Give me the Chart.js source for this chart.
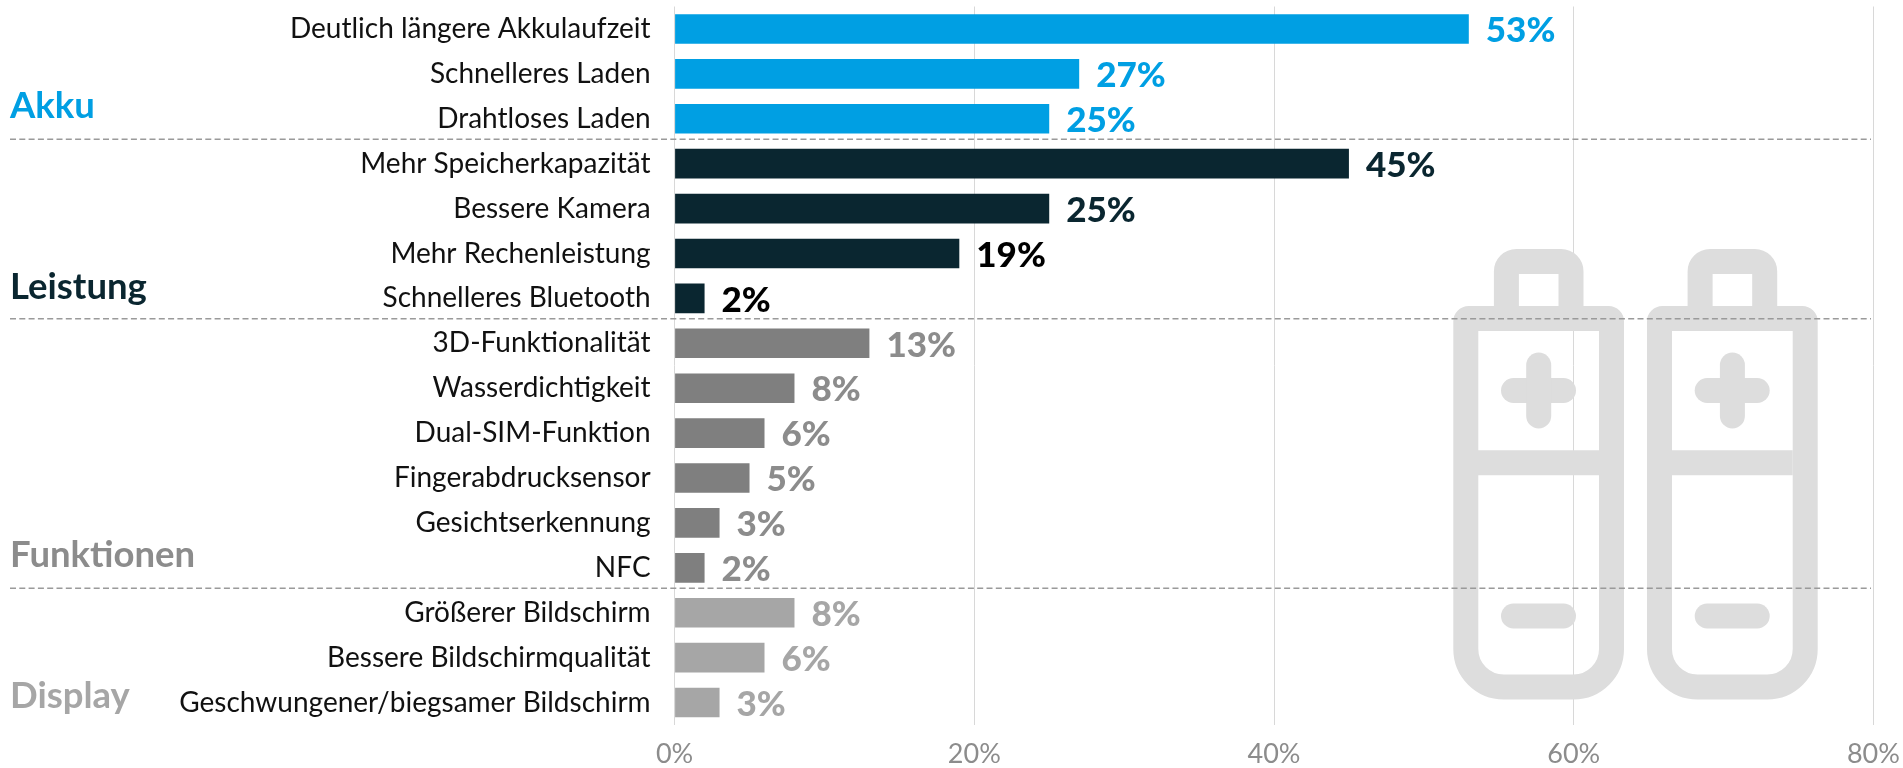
<!DOCTYPE html>
<html>
<head>
<meta charset="utf-8">
<title>Smartphone Wünsche</title>
<script src="https://cdn.jsdelivr.net/npm/chart.js@4"></script>
<style>
    html, body { margin: 0; padding: 0; background: #fff; }
    canvas { display: block; }
</style>
</head>
<body>
<canvas id="chart" width="1903" height="768"></canvas>
<script>
const categories = [
    "Deutlich längere Akkulaufzeit", "Schnelleres Laden", "Drahtloses Laden",
    "Mehr Speicherkapazität", "Bessere Kamera", "Mehr Rechenleistung", "Schnelleres Bluetooth",
    "3D-Funktionalität", "Wasserdichtigkeit", "Dual-SIM-Funktion", "Fingerabdrucksensor", "Gesichtserkennung", "NFC",
    "Größerer Bildschirm", "Bessere Bildschirmqualität", "Geschwungener/biegsamer Bildschirm"
];
const values = [53, 27, 25, 45, 25, 19, 2, 13, 8, 6, 5, 3, 2, 8, 6, 3];
const barColors = [
    "#009fe3", "#009fe3", "#009fe3",
    "#0a2630", "#0a2630", "#0a2630", "#0a2630",
    "#7f7f7f", "#7f7f7f", "#7f7f7f", "#7f7f7f", "#7f7f7f", "#7f7f7f",
    "#a6a6a6", "#a6a6a6", "#a6a6a6"
];
const labelColors = [
    "#009fe3", "#009fe3", "#009fe3",
    "#0a2630", "#0a2630", "#000000", "#000000",
    "#8c8c8c", "#8c8c8c", "#8c8c8c", "#8c8c8c", "#8c8c8c", "#8c8c8c",
    "#a6a6a6", "#a6a6a6", "#a6a6a6"
];
const groupNames = ["Akku", "Leistung", "Funktionen", "Display"];
const groupColors = ["#009fe3", "#0a2630", "#8c8c8c", "#a6a6a6"];
const groupTitleY = [106, 287, 555, 696];
const lastRowOfGroup = [2, 6, 12];
const tickValues = [0, 20, 40, 60, 80];

const FONT = "Lato, sans-serif";

// the two background batteries, just decoration
const drawBattery = (ctx, dx) => {
    const line = (x1, y1, x2, y2) => {
        ctx.beginPath();
        ctx.moveTo(x1 + dx, y1);
        ctx.lineTo(x2 + dx, y2);
        ctx.stroke();
    };
    ctx.strokeStyle = "#dddddd";
    ctx.lineWidth = 25;
    ctx.lineCap = "butt";

    ctx.beginPath();
    ctx.roundRect(1465.8 + dx, 318.5, 145.7, 368.5, [3, 3, 38, 38]);
    ctx.stroke();

    ctx.beginPath();
    ctx.moveTo(1506.4 + dx, 306);
    ctx.lineTo(1506.4 + dx, 272);
    ctx.arcTo(1506.4 + dx, 261.5, 1520 + dx, 261.5, 10);
    ctx.lineTo(1560 + dx, 261.5);
    ctx.arcTo(1571 + dx, 261.5, 1571 + dx, 272, 10);
    ctx.lineTo(1571 + dx, 306);
    ctx.stroke();

    line(1478, 462.7, 1599, 462.7);

    ctx.lineCap = "round";
    line(1513.5, 390.5, 1563.5, 390.5);
    line(1538.7, 365, 1538.7, 416);
    line(1513.5, 616, 1563.5, 616);
};

const decorations = {
    id: "decorations",
    beforeDatasetsDraw(chart) {
        const { ctx } = chart;
        ctx.save();
        drawBattery(ctx, 0);
        drawBattery(ctx, 193.7);
        ctx.restore();
    },
    afterDatasetsDraw(chart) {
        const { ctx, scales } = chart;
        const meta = chart.getDatasetMeta(0);
        ctx.save();

        // group separators
        const pitch = scales.y.getPixelForValue(1) - scales.y.getPixelForValue(0);
        ctx.strokeStyle = "#9a9a9a";
        ctx.lineWidth = 1.5;
        ctx.setLineDash([6, 3.3]);
        lastRowOfGroup.forEach((row) => {
            const y = scales.y.getPixelForValue(row) + pitch / 2 - 2;
            ctx.beginPath();
            ctx.moveTo(10, y);
            ctx.lineTo(1871, y);
            ctx.stroke();
        });
        ctx.setLineDash([]);

        // value labels
        ctx.font = "900 35px " + FONT;
        ctx.textAlign = "left";
        ctx.textBaseline = "middle";
        meta.data.forEach((bar, i) => {
            ctx.fillStyle = labelColors[i];
            ctx.fillText(values[i] + "%", bar.x + 17, bar.y + 2);
        });

        // group titles
        ctx.font = "700 36.5px " + FONT;
        groupNames.forEach((name, i) => {
            ctx.fillStyle = groupColors[i];
            ctx.fillText(name, 10, groupTitleY[i]);
        });
        ctx.restore();
    }
};

new Chart(document.getElementById("chart"), {
    type: "bar",
    data: {
        labels: categories,
        datasets: [{
            data: values,
            backgroundColor: barColors,
            categoryPercentage: 1,
            barPercentage: 0.66
        }]
    },
    options: {
        indexAxis: "y",
        responsive: false,
        animation: false,
        layout: { padding: { top: 6.5, right: 29.6, left: 0, bottom: 0 } },
        plugins: { legend: { display: false }, tooltip: { enabled: false } },
        scales: {
            x: {
                min: 0,
                max: 80,
                afterBuildTicks: (scale) => { scale.ticks = tickValues.map((value) => ({ value })); },
                afterFit: (scale) => {
                    scale.height = 43;
                    scale.paddingLeft = 0;
                    scale.paddingRight = 0;
                },
                grid: { color: "#d8d8d8", lineWidth: 1, tickLength: 0, drawTicks: false },
                border: { display: false },
                ticks: {
                    padding: 13,
                    maxRotation: 0,
                    color: "#8c8c8c",
                    font: { family: FONT, size: 27 },
                    callback: (value) => value + "%"
                }
            },
            y: {
                afterFit: (scale) => {
                    scale.width = 674.6;
                    scale.paddingTop = 0;
                    scale.paddingBottom = 0;
                },
                grid: { display: false, drawTicks: false, tickLength: 0 },
                border: { display: false },
                ticks: {
                    padding: 24,
                    autoSkip: false,
                    color: "#111111",
                    font: { family: FONT, size: 28 }
                }
            }
        }
    },
    plugins: [decorations]
});
</script>
</body>
</html>
